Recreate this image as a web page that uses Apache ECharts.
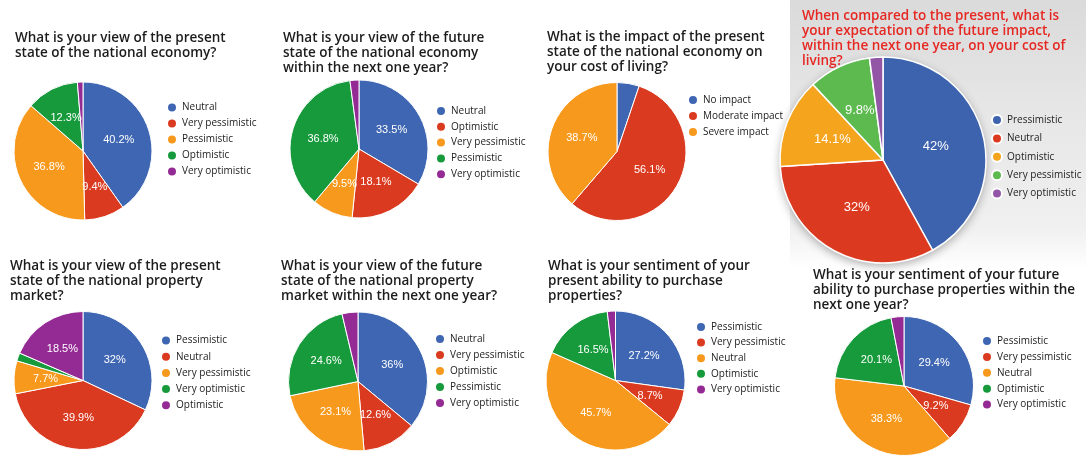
<!DOCTYPE html>
<html>
<head>
<meta charset="utf-8">
<script src="https://cdn.jsdelivr.net/npm/echarts@6/dist/echarts.min.js"></script>
<style>
  html, body { margin: 0; padding: 0; background: #ffffff; }
  #wrap { position: relative; width: 1086px; height: 464px; overflow: hidden; background: #fff; }
  .layer { position: absolute; left: 0; top: 0; width: 1086px; height: 464px; }
  #greybox { position: absolute; left: 790px; top: 0; width: 296px; height: 268px;
    background: linear-gradient(to bottom, #dadada 0%, #e6e6e6 40%, #f0f0f0 85%, rgba(255,255,255,0) 100%); }
</style>
</head>
<body>
<div id="wrap"><div id="greybox"></div></div>
<script>
// ---------------- DATA ----------------
const p1Title = ['What is your view of the present', 'state of the national economy?'];
const p1Names = ['Neutral', 'Very pessimistic', 'Pessimistic', 'Optimistic', 'Very optimistic'];
const p1Values = [40.2, 9.4, 36.8, 12.3, 1.3];

const p2Title = ['What is your view of the future', 'state of the national economy', 'within the next one year?'];
const p2Names = ['Neutral', 'Optimistic', 'Very pessimistic', 'Pessimistic', 'Very optimistic'];
const p2Values = [33.5, 18.1, 9.5, 36.8, 2.1];

const p3Title = ['What is the impact of the present', 'state of the national economy on', 'your cost of living?'];
const p3Names = ['No impact', 'Moderate impact', 'Severe impact'];
const p3Values = [5.2, 56.1, 38.7];

const p4Title = ['When compared to the present, what is', 'your expectation of the future impact,', 'within the next one year, on your cost of', 'living?'];
const p4Names = ['Pressimistic', 'Neutral', 'Optimistic', 'Very pessimistic', 'Very optimistic'];
const p4Values = [42, 32, 14.1, 9.8, 2.1];

const p5Title = ['What is your view of the present', 'state of the national property', 'market?'];
const p5Names = ['Pessimistic', 'Neutral', 'Very pessimistic', 'Very optimistic', 'Optimistic'];
const p5Values = [32, 39.9, 7.7, 1.9, 18.5];

const p6Title = ['What is your view of the future', 'state of the national property', 'market within the next one year?'];
const p6Names = ['Neutral', 'Very pessimistic', 'Optimistic', 'Pessimistic', 'Very optimistic'];
const p6Values = [36, 12.6, 23.1, 24.6, 3.7];

const p7Title = ['What is your sentiment of your', 'present ability to purchase', 'properties?'];
const p7Names = ['Pessimistic', 'Very pessimistic', 'Neutral', 'Optimistic', 'Very optimistic'];
const p7Values = [27.2, 8.7, 45.7, 16.5, 1.9];

const p8Title = ['What is your sentiment of your future', 'ability to purchase properties within the', 'next one year?'];
const p8Names = ['Pessimistic', 'Very pessimistic', 'Neutral', 'Optimistic', 'Very optimistic'];
const p8Values = [29.4, 9.2, 38.3, 20.1, 3.0];

// ---------------- STYLE / LAYOUT ----------------
const paletteA = ['#3e66b2', '#da3a1f', '#f7991c', '#169a3b', '#942a94'];
const paletteB = ['#3d63ae', '#dc3a20', '#f5a41e', '#5cba4f', '#9356a7'];

const panels = [
  { title: p1Title, names: p1Names, values: p1Values, pal: paletteA, tx: 15, ty: 31, c: [83, 151], r: 69, lx: 166, ly: 101.5, gap: 16 },
  { title: p2Title, names: p2Names, values: p2Values, pal: paletteA, tx: 283, ty: 30.5, c: [359, 149], r: 69, lx: 435, ly: 105, gap: 15.8 },
  { title: p3Title, names: p3Names, values: p3Values, pal: paletteA, tx: 547, ty: 30, c: [617, 151.5], r: 69, lx: 687, ly: 94, gap: 16 },
  { title: p4Title, names: p4Names, values: p4Values, pal: paletteB, tx: 802, ty: 8.5, c: [883, 160], r: 103, lx: 991, ly: 114, gap: 18.4, big: true, red: true },
  { title: p5Title, names: p5Names, values: p5Values, pal: paletteA, tx: 10, ty: 259, c: [83, 380.5], r: 69, lx: 160, ly: 334.5, gap: 16.2 },
  { title: p6Title, names: p6Names, values: p6Values, pal: paletteA, tx: 281, ty: 259, c: [358, 381.5], r: 69.5, lx: 434, ly: 333, gap: 16 },
  { title: p7Title, names: p7Names, values: p7Values, pal: paletteA, tx: 548, ty: 259, c: [615.5, 380.5], r: 69.5, lx: 695, ly: 321, gap: 15.6 },
  { title: p8Title, names: p8Names, values: p8Values, pal: paletteA, tx: 813, ty: 268, c: [904, 386], r: 69.5, lx: 981, ly: 335, gap: 15.9 }
];

const wrap = document.getElementById('wrap');
const TITLE_FONT = '"Open Sans", "Noto Sans", sans-serif';
const LABEL_FONT = '"Liberation Sans", Arial, sans-serif';

panels.forEach(function (p) {
  const div = document.createElement('div');
  div.className = 'layer';
  wrap.appendChild(div);
  const chart = echarts.init(div, null, { renderer: 'canvas', width: 1086, height: 464 });
  const textH = 12;
  const series = [];
  if (p.big) {
    series.push({
      type: 'pie', silent: true, animation: false, z: 1,
      center: p.c, radius: p.r,
      label: { show: false }, labelLine: { show: false },
      data: [{ value: 1, name: '__bg', itemStyle: { color: '#ffffff', shadowBlur: 10, shadowColor: 'rgba(0,0,0,0.32)', shadowOffsetY: 3, shadowOffsetX: 0 } }]
    });
  }
  series.push({
    type: 'pie', animation: false, z: 2,
    center: p.c, radius: p.r,
    startAngle: 90, clockwise: true,
    itemStyle: { borderColor: '#ffffff', borderWidth: p.big ? 1.5 : 1 },
    label: {
      show: true, position: 'inside', color: '#ffffff',
      fontFamily: LABEL_FONT, fontSize: p.big ? 13 : 11,
      formatter: function (d) { return d.value >= 6 ? d.value + '%' : ''; }
    },
    labelLine: { show: false },
    emphasis: { disabled: true },
    data: p.names.map(function (n, i) {
      return { name: n, value: p.values[i], itemStyle: { color: p.pal[i] } };
    })
  });
  chart.setOption({
    animation: false,
    title: {
      text: p.title.join('\n'),
      left: p.tx, top: p.ty, padding: 0,
      textStyle: {
        fontFamily: TITLE_FONT, fontSize: 13.5, fontWeight: 600,
        lineHeight: 15, color: p.red ? '#e62722' : '#1c1c1c'
      }
    },
    legend: {
      orient: 'vertical', left: p.lx, top: p.ly, padding: 0,
      icon: 'circle', itemWidth: 10, itemHeight: 10,
      itemGap: p.gap - textH, selectedMode: false,
      data: p.names,
      textStyle: { fontFamily: TITLE_FONT, fontSize: 10, lineHeight: textH, color: '#222222' }
    },
    series: series
  });
});
</script>
</body>
</html>
